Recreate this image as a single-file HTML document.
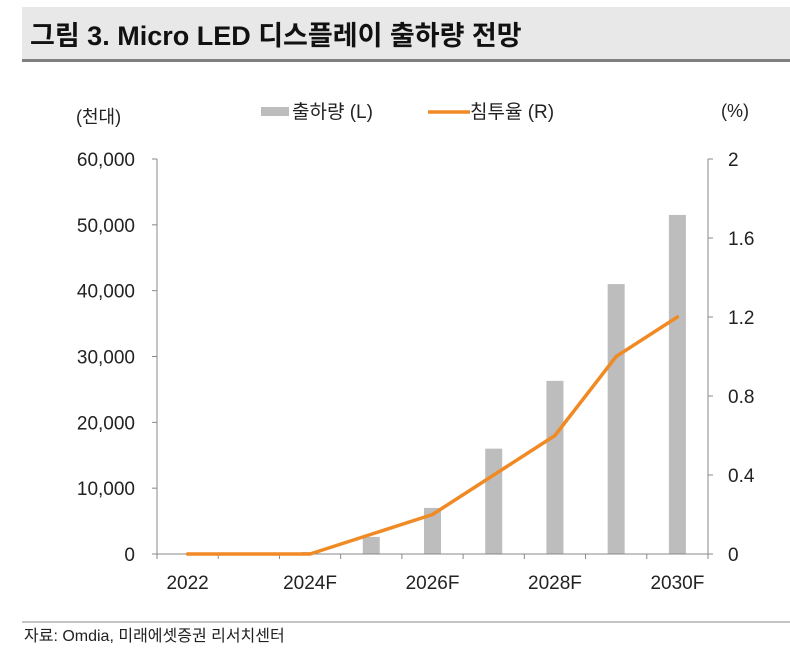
<!DOCTYPE html>
<html><head><meta charset="utf-8"><style>
body{margin:0;width:790px;height:654px;background:#fff;overflow:hidden;font-family:"Liberation Sans","Noto Sans CJK KR",sans-serif;}
svg text{font-family:"Liberation Sans","Noto Sans CJK KR",sans-serif;}
</style></head><body>
<svg width="790" height="654">
<rect x="22" y="7" width="768" height="53" fill="#e8e8e8"/>
<rect x="22" y="59" width="768" height="3" fill="#7f7f7f"/>
<text x="30" y="45" font-size="27" font-weight="bold" fill="#111">그림 3. Micro LED 디스플레이 출하량 전망</text>
<text x="76" y="123" font-size="18" fill="#222">(천대)</text>
<text x="721" y="117" font-size="18" fill="#222">(%)</text>
<g>
<rect x="261" y="107" width="28" height="9" fill="#bdbdbd"/>
<text x="292" y="118" font-size="19" fill="#222">출하량 (L)</text>
<line x1="428" y1="112" x2="470" y2="112" stroke="#f08a24" stroke-width="3.5"/>
<text x="470" y="118" font-size="19" fill="#222">침투율 (R)</text>
</g>
<g id="plot"></g>
<line x1="22" y1="622" x2="790" y2="622" stroke="#888" stroke-width="1"/>
<text x="24" y="641" font-size="16" fill="#222">자료: Omdia, 미래에셋증권 리서치센터</text>
</svg>
<script>
const categories=["2022","2023","2024F","2025F","2026F","2027F","2028F","2029F","2030F"];
const shipments=[0,0,300,2600,7000,16000,26300,41000,51500];
const penetration=[0,0,0,0.1,0.2,0.4,0.6,1.0,1.2];
const leftTicks=[0,10000,20000,30000,40000,50000,60000];
const rightTicks=[0,0.4,0.8,1.2,1.6,2];
const xLabelIdx=[0,2,4,6,8];

const NS="http://www.w3.org/2000/svg";
const g=document.getElementById('plot');
const X0=157,X1=708,Y0=554,Y1=159;
const bw=(X1-X0)/categories.length;
const xc=i=>X0+bw*(i+0.5);
const yL=v=>Y0-(v/60000)*(Y0-Y1);
const yR=v=>Y0-(v/2)*(Y0-Y1);
function mk(tag,attrs){const e=document.createElementNS(NS,tag);for(const k in attrs)e.setAttribute(k,attrs[k]);g.appendChild(e);return e;}

shipments.forEach((v,i)=>{
 const r=mk('rect',{x:xc(i)-8.5,y:yL(v),width:17,height:Y0-yL(v),fill:'#bdbdbd'});
 
 
});
let a=mk('line',{x1:X0,y1:Y1,x2:X0,y2:Y0,stroke:'#888'});


a=mk('line',{x1:X1,y1:Y1,x2:X1,y2:Y0,stroke:'#888'});


a=mk('line',{x1:X0,y1:Y0,x2:X1,y2:Y0,stroke:'#888'});


leftTicks.forEach(v=>{
 mk('line',{x1:X0-5,y1:yL(v),x2:X0,y2:yL(v),stroke:'#888'});
 const t=mk('text',{x:X0-22,y:yL(v)+7,'font-size':19,fill:'#222','text-anchor':'end'});
 t.textContent=v.toLocaleString('en-US');
 
 
});
rightTicks.forEach(v=>{
 mk('line',{x1:X1,y1:yR(v),x2:X1+5,y2:yR(v),stroke:'#888'});
 const t=mk('text',{x:X1+20,y:yR(v)+7,'font-size':19,fill:'#222'});
 t.textContent=String(v);
 
 
});
for(let i=0;i<=categories.length;i++){mk('line',{x1:X0+bw*i,y1:Y0,x2:X0+bw*i,y2:Y0+5,stroke:'#888'});}
xLabelIdx.forEach(i=>{
 const t=mk('text',{x:xc(i),y:589,'font-size':19,fill:'#222','text-anchor':'middle'});
 t.textContent=categories[i];
 
 
});
const pl=mk('polyline',{points:penetration.map((v,i)=>xc(i)+','+yR(v)).join(' '),fill:'none',stroke:'#f08a24','stroke-width':3.5,'stroke-linejoin':'round','stroke-linecap':'round'});


</script>
</body></html>
